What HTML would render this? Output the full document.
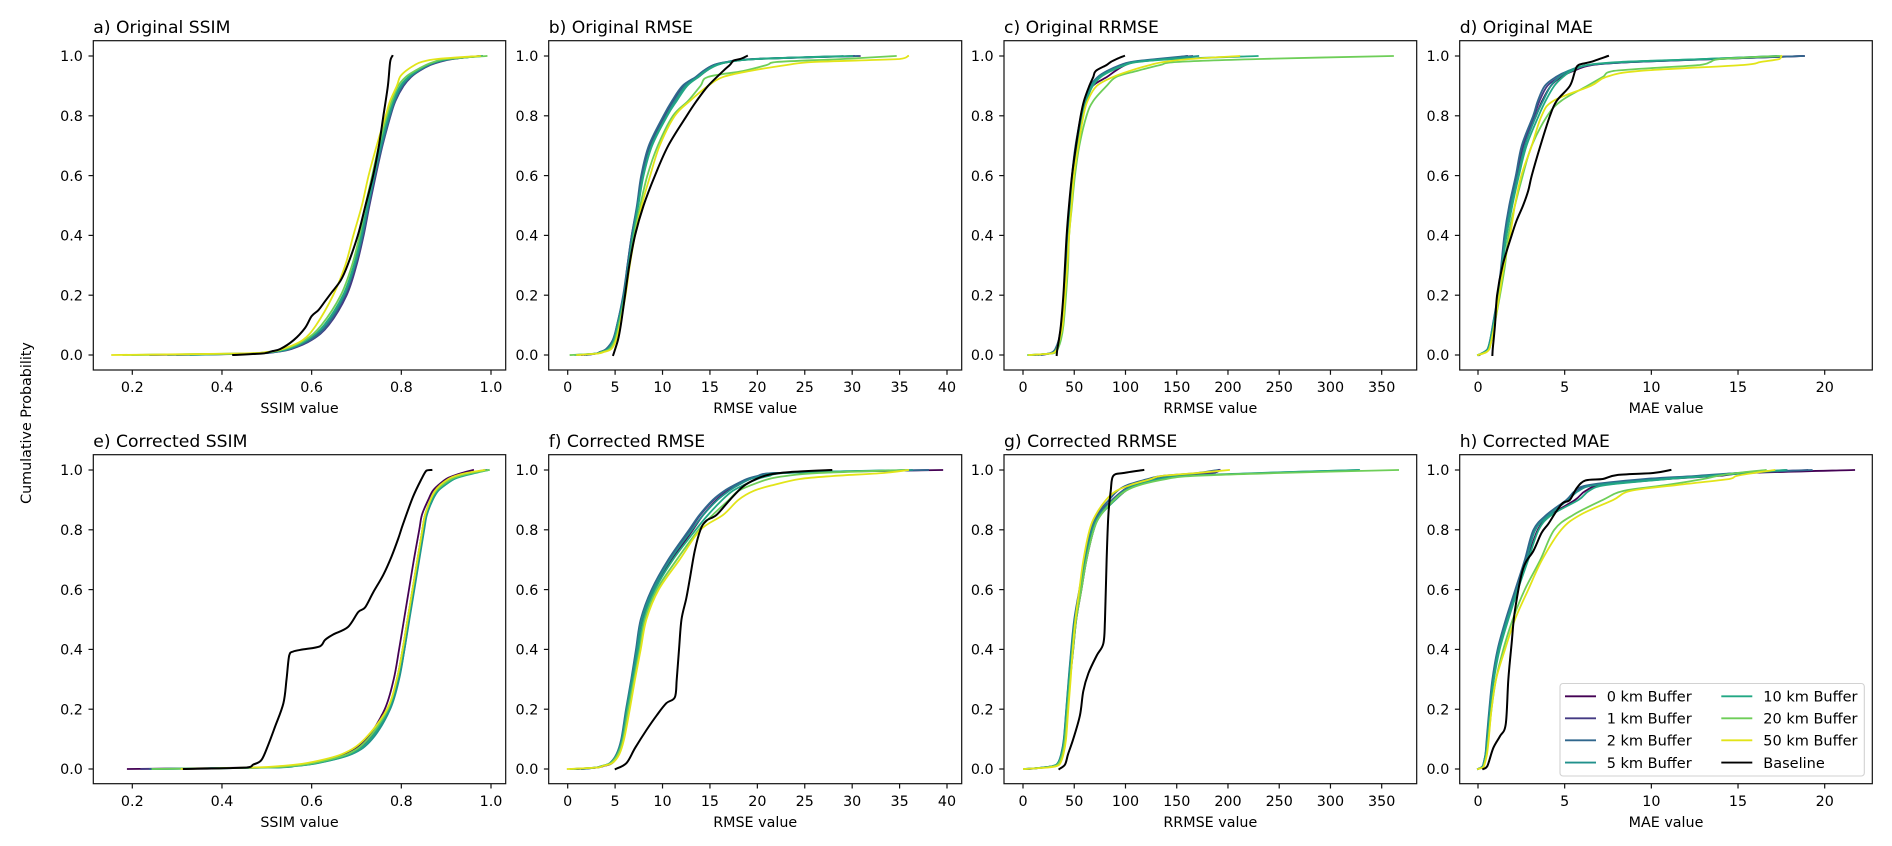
<!DOCTYPE html>
<html lang="en">
<head>
<meta charset="utf-8">
<title>Cumulative probability of SSIM, RMSE, RRMSE and MAE</title>
<style>
html,body{margin:0;padding:0;background:#fff;width:1892px;height:846px;overflow:hidden}
svg{display:block;filter:blur(0.3px)}
text{font-family:"DejaVu Sans","Liberation Sans",sans-serif;fill:#000}
</style>
</head>
<body>
<svg id="figure" width="1892" height="846" viewBox="0 0 1892 846" xmlns="http://www.w3.org/2000/svg"></svg>
<script>
// Cumulative probability level shared by every buffer series
const probabilityLevels = [0,.005,.01,.02,.05,.1,.2,.3,.4,.5,.6,.7,.8,.85,.9,.93,.95,.97,.98,.99,1];

// Category and legend labels
const seriesNames = ['0 km Buffer','1 km Buffer','2 km Buffer','5 km Buffer','10 km Buffer','20 km Buffer','50 km Buffer'];
const baselineName = 'Baseline';

// a) Original SSIM
const a0 = [.24,.47,.51,.55,.595,.635,.675,.698,.713,.726,.74,.755,.773,.785,.802,.82,.838,.86,.88,.91,.975];
const a1 = [.3,.48,.52,.555,.6,.638,.678,.7,.716,.729,.743,.758,.776,.787,.805,.822,.84,.865,.885,.915,.975];
const a2 = [.28,.47,.52,.55,.597,.635,.674,.697,.714,.727,.741,.757,.775,.786,.803,.82,.838,.862,.88,.91,.98];
const a5 = [.33,.46,.51,.55,.59,.63,.672,.696,.712,.726,.74,.755,.773,.784,.8,.818,.836,.86,.878,.91,.975];
const a10 = [.2,.46,.51,.545,.59,.628,.67,.694,.71,.724,.738,.753,.771,.782,.798,.816,.834,.858,.876,.905,.98];
const a20 = [.18,.45,.5,.54,.585,.622,.665,.69,.707,.72,.735,.75,.768,.779,.793,.81,.83,.855,.872,.9,.99];
const a50 = [.155,.44,.5,.535,.58,.61,.648,.675,.693,.712,.727,.745,.765,.775,.79,.797,.81,.83,.845,.88,.975];
const aBaseX = [.425,.49,.51,.53,.56,.585,.6,.615,.63,.645,.665,.68,.703,.72,.737,.75,.76,.77,.775,.78];
const aBaseP = [0,.005,.012,.02,.05,.09,.13,.15,.18,.21,.25,.3,.4,.5,.6,.7,.8,.9,.98,1];

// b) Original RMSE
const b0 = [1.5,3,3.5,4.2,4.85,5.25,5.95,6.35,6.8,7.4,7.9,8.7,10.4,11.3,12.4,13.8,14.6,15.7,17,20,30.2];
const b1 = [2,3,3.4,4.1,4.8,5.2,5.9,6.3,6.75,7.35,7.8,8.6,10.2,11.1,12.2,13.6,14.3,15.4,16.8,19.6,30.8];
const b2 = [1.8,3,3.4,4.05,4.75,5.2,5.85,6.3,6.75,7.3,7.75,8.55,10.1,11,12.1,13.5,14.3,15.4,16.7,19.5,30.6];
const b5 = [1,3,3.5,4.2,4.85,5.25,5.95,6.4,6.85,7.4,7.95,8.8,10.4,11.3,12.4,13.7,14.5,15.6,16.9,20,29];
const b10 = [.8,3,3.5,4.3,4.9,5.3,6,6.45,6.9,7.45,8,8.9,10.5,11.5,12.6,13.8,14.6,15.8,17,20,30];
const b20 = [.3,3,3.6,4.4,5,5.4,6.05,6.5,7,7.65,8.4,9.5,11.1,12.7,14,14.8,18.5,21,22,29,34.6];
const b50 = [1,3.2,3.8,4.6,5.1,5.5,6.1,6.55,7.1,7.8,8.7,9.7,11.3,12.9,14.8,16.4,19.2,23.1,25.9,35,35.9];
const bBaseX = [4.8,5.3,5.6,6.05,6.5,7.1,8,9.2,10.6,12.55,13.6,14.8,16.4,17.1,17.5,18.2,18.9];
const bBaseP = [0,.05,.1,.2,.3,.4,.5,.6,.7,.8,.85,.9,.95,.97,.985,.99,1];

// c) Original RRMSE
const c0 = [12,26,30,32,35.5,37.7,40.3,42.6,44,46,48.2,52,57.5,61,68,82,90,100,110,140,160];
const c1 = [18,26,30,32,35,37.5,40,42.4,43.8,45.8,48,51.5,57,60.2,66,74,84,97,107,135,165];
const c2 = [15,25,29,31.5,34.8,37.2,39.8,42.2,43.6,45.6,47.8,51.2,56.5,59.8,65.5,73,82,95,105,130,160];
const c5 = [10,26,30,32.5,35.5,38,40.5,42.8,44.2,46.2,48.4,52,57.5,60.5,66.5,74,84,98,108,137,171];
const c10 = [8,27,31,33,36,38.5,41,43.2,44.8,46.8,49,53,58.5,62,68,76,86,100,112,150,229];
const c20 = [5,28,32,34,37,39.5,42,44,45,47.8,50.7,55,62,68.6,81.6,91,111,134,150,231,361];
const c50 = [6,27,31,33,35.5,38.7,41,43.3,45,47.4,49.7,54,59,63,72,88,104,124,137,163,211];
const cBaseX = [32.9,33.5,35,37,39.4,41,42.6,44.9,47.8,51.7,56.3,59.5,64.7,68.6,71,81.6,85.6,91.4,98.6];
const cBaseP = [0,.02,.05,.1,.2,.3,.4,.5,.6,.7,.8,.85,.9,.93,.95,.97,.98,.99,1];

// d) Original MAE
const d0 = [.05,.2,.4,.6,.74,.88,1.17,1.38,1.58,1.88,2.27,2.65,3.35,3.7,4.2,4.8,5.5,6.6,9,13.8,18.8];
const d1 = [.1,.2,.38,.58,.72,.87,1.16,1.36,1.55,1.84,2.2,2.58,3.25,3.55,4,4.7,5.3,6.5,9,13.8,18.7];
const d2 = [.05,.2,.36,.56,.7,.85,1.14,1.34,1.52,1.8,2.18,2.52,3.18,3.45,3.85,4.5,5.2,6.4,8.8,13.6,18.8];
const d5 = [0,.2,.35,.55,.7,.86,1.16,1.38,1.6,1.9,2.3,2.7,3.35,3.75,4.2,4.7,5.2,6.3,8.5,13,17.2];
const d10 = [0,.22,.4,.6,.74,.9,1.2,1.42,1.65,1.98,2.36,2.8,3.5,3.9,4.4,4.9,5.4,6.3,8.2,13,17.3];
const d20 = [0,.25,.45,.65,.78,.95,1.27,1.56,1.75,2.13,2.58,3.1,4,4.8,6.3,7.2,7.8,12.8,13.4,14,17.4];
const d50 = [0,.3,.5,.65,.78,.95,1.23,1.5,1.85,2.13,2.5,3.1,3.67,4.35,6.5,7.4,9.3,15.3,16.3,17.4,17.5];
const dBaseX = [.83,.85,.98,1.1,1.42,1.94,2.23,2.6,2.9,3.1,3.6,4.15,4.54,5.3,5.6,5.8,6.5,7.5];
const dBaseP = [0,.02,.1,.2,.3,.4,.45,.5,.55,.6,.7,.8,.85,.9,.95,.97,.98,1];

// e) Corrected SSIM
const e0 = [.19,.49,.545,.6,.675,.722,.763,.783,.795,.806,.817,.828,.84,.846,.86,.87,.883,.9,.915,.935,.96];
const e1 = [.22,.5,.555,.608,.682,.728,.77,.79,.803,.814,.825,.836,.847,.853,.866,.877,.89,.908,.925,.95,.99];
const e2 = [.24,.51,.56,.612,.688,.733,.774,.794,.807,.817,.828,.839,.85,.856,.869,.88,.895,.915,.93,.955,.985];
const e5 = [.25,.52,.565,.615,.69,.735,.775,.795,.807,.818,.829,.84,.851,.857,.87,.882,.898,.918,.935,.96,.99];
const e10 = [.245,.505,.56,.612,.687,.731,.772,.792,.805,.816,.827,.838,.849,.855,.868,.88,.896,.918,.938,.965,.995];
const e20 = [.245,.5,.555,.605,.68,.725,.77,.79,.803,.814,.825,.836,.847,.853,.865,.877,.892,.912,.93,.958,.995];
const e50 = [.31,.47,.53,.59,.668,.718,.768,.79,.803,.814,.825,.836,.847,.853,.865,.875,.887,.905,.92,.945,.985];
const eBaseX = [.315,.455,.47,.488,.503,.518,.537,.544,.55,.559,.581,.618,.63,.648,.681,.704,.719,.737,.76,.778,.793,.804,.826,.845,.856,.867];
const eBaseP = [0,.005,.015,.03,.08,.14,.22,.3,.38,.393,.4,.41,.432,.45,.475,.525,.54,.59,.65,.71,.77,.82,.91,.97,.998,1];

// f) Corrected RMSE
const f0 = [1,3.1,3.8,4.7,5.4,5.8,6.3,6.85,7.35,7.85,9.05,11,13.2,14.3,15.7,16.9,18,19.2,20.3,22,39.5];
const f1 = [1.5,3.1,3.7,4.6,5.25,5.7,6.2,6.75,7.25,7.75,8.9,10.7,12.9,14,15.4,16.6,17.7,19,20.1,21.8,38];
const f2 = [1.5,3,3.6,4.45,5.15,5.65,6.15,6.7,7.2,7.7,8.85,10.6,12.8,13.9,15.3,16.5,17.6,18.9,20,21.7,38];
const f5 = [.8,3,3.6,4.5,5.2,5.7,6.2,6.75,7.3,7.8,9,10.8,13.1,14.3,15.8,17,18,19.3,20.5,22.2,36.3];
const f10 = [.4,3,3.6,4.5,5.25,5.8,6.3,6.9,7.45,8,9.2,11.1,13.5,14.8,16.3,17.4,18.6,20,21.2,23,35.5];
const f20 = [.3,3,3.6,4.55,5.3,5.85,6.4,7,7.6,8.15,9.4,11.5,13.8,15.3,17,18,19.4,21.2,23,26.5,35.8];
const f50 = [0,3.1,3.7,4.7,5.45,5.95,6.55,7.1,7.7,8.3,9.6,11.8,14,16.4,18,19.6,21.7,24.5,28,33.3,35.9];
const fBaseX = [5.06,6.2,7.1,8.3,9.4,10.4,11.3,11.5,11.74,12,12.5,12.9,13.4,14,14.6,15.7,17.1,18.5,19.9,21.3,23.4,27.8];
const fBaseP = [0,.02,.07,.13,.18,.22,.24,.3,.4,.5,.57,.64,.73,.8,.83,.85,.9,.945,.97,.985,.993,1];

// g) Corrected RRMSE
const g0 = [3,20,30,35,38.5,41.3,43.6,46,49,52,57,62,69,75,90,100,110,132,150,185,191];
const g1 = [5,20,30,34.5,37.7,40.3,42.8,45.2,48,51,56,61,67,73,87,97,107,128,147,185,192];
const g2 = [6,20,30,34,37.2,39.8,42.2,44.5,47,50,55,60,66,71.5,84,92,102,122,135,170,190];
const g5 = [2,19,29,34,37.5,40,42.3,44.7,47.3,50.5,55.5,60.5,67.5,74,88,98,108,130,155,230,327];
const g10 = [2,20,30,34.5,38,40.5,42.8,45.2,48,51,56,61.5,69,76,90,100,112,135,158,235,328];
const g20 = [1,22,31,35,38.5,41,43.5,46,49,52,57,62,69,76,89,100,114,140,165,250,366];
const g50 = [1,24,33,36.5,39.5,42,44.2,46.5,48.5,51.2,55,59,65,71,81,91,105,125,135,170,201];
const gBaseX = [35.5,41,44,49,55.6,58.8,63.8,72,78.4,80,81.6,83.3,85.6,88,98,117.4];
const gBaseP = [0,.015,.05,.1,.18,.26,.32,.38,.42,.5,.7,.85,.93,.98,.99,1];

// h) Corrected MAE
const h0 = [0,.2,.3,.35,.46,.54,.7,.88,1.2,1.7,2.25,2.85,3.45,4.2,5.6,6.2,7.2,11,13.8,15.7,21.7];
const h1 = [0,.2,.28,.33,.44,.52,.67,.85,1.15,1.62,2.2,2.75,3.3,4.05,5.2,5.7,6.6,10,13,15,19];
const h2 = [0,.18,.27,.32,.43,.5,.65,.83,1.13,1.6,2.15,2.7,3.2,3.95,5.1,5.6,6.4,9.6,12.5,15,19.25];
const h5 = [0,.18,.28,.33,.44,.53,.68,.87,1.18,1.68,2.25,2.8,3.3,4.1,5.2,5.8,6.8,10.5,13,15,17.8];
const h10 = [0,.2,.3,.35,.47,.56,.72,.92,1.25,1.75,2.3,2.9,3.5,4.25,5.8,6.4,7.4,11,13.5,15.4,17.7];
const h20 = [0,.25,.32,.38,.5,.6,.78,1.04,1.46,2,2.7,3.6,4.4,5.5,7.2,8.4,10.9,13,13.8,14.9,16.6];
const h50 = [0,.28,.35,.4,.52,.62,.78,1.04,1.56,2.13,2.9,3.7,4.8,5.9,7.8,8.8,11.5,14.5,14.9,15.9,17.1];
const hBaseX = [.3,.54,.88,1.27,1.6,1.75,1.94,2.13,2.6,3.2,3.67,4.06,4.5,4.9,5.3,5.7,6.2,7.2,8,10.1,11.1];
const hBaseP = [0,.01,.07,.11,.15,.3,.42,.53,.67,.73,.79,.82,.86,.89,.9,.94,.965,.97,.983,.99,1];

// Tick labels
const yTickValues = [0,.2,.4,.6,.8,1];
const ssimTicks = [.2,.4,.6,.8,1];
const rmseTicks = [0,5,10,15,20,25,30,35,40];
const rrmseTicks = [0,50,100,150,200,250,300,350];
const maeTicks = [0,5,10,15,20];

const panels = [
  {key:'a',title:'a) Original SSIM',xlabel:'SSIM value',ticks:ssimTicks,dec:1,col:0,row:0,series:[a0,a1,a2,a5,a10,a20,a50],bx:aBaseX,bp:aBaseP},
  {key:'b',title:'b) Original RMSE',xlabel:'RMSE value',ticks:rmseTicks,dec:0,col:1,row:0,series:[b0,b1,b2,b5,b10,b20,b50],bx:bBaseX,bp:bBaseP},
  {key:'c',title:'c) Original RRMSE',xlabel:'RRMSE value',ticks:rrmseTicks,dec:0,col:2,row:0,series:[c0,c1,c2,c5,c10,c20,c50],bx:cBaseX,bp:cBaseP},
  {key:'d',title:'d) Original MAE',xlabel:'MAE value',ticks:maeTicks,dec:0,col:3,row:0,series:[d0,d1,d2,d5,d10,d20,d50],bx:dBaseX,bp:dBaseP},
  {key:'e',title:'e) Corrected SSIM',xlabel:'SSIM value',ticks:ssimTicks,dec:1,col:0,row:1,series:[e0,e1,e2,e5,e10,e20,e50],bx:eBaseX,bp:eBaseP},
  {key:'f',title:'f) Corrected RMSE',xlabel:'RMSE value',ticks:rmseTicks,dec:0,col:1,row:1,series:[f0,f1,f2,f5,f10,f20,f50],bx:fBaseX,bp:fBaseP},
  {key:'g',title:'g) Corrected RRMSE',xlabel:'RRMSE value',ticks:rrmseTicks,dec:0,col:2,row:1,series:[g0,g1,g2,g5,g10,g20,g50],bx:gBaseX,bp:gBaseP},
  {key:'h',title:'h) Corrected MAE',xlabel:'MAE value',ticks:maeTicks,dec:0,col:3,row:1,series:[h0,h1,h2,h5,h10,h20,h50],bx:hBaseX,bp:hBaseP}
];

// Layout (screen geometry, separate from data)
const columnLayout = [
  {left:93.3,right:505.7,d0:.2,p0:132.3,d1:1,p1:491},
  {left:548.7,right:961.7,d0:0,p0:567.7,d1:40,p1:947},
  {left:1004,right:1416.7,d0:0,p0:1023,d1:350,p1:1381.7},
  {left:1459.7,right:1872.3,d0:0,p0:1478,d1:20,p1:1824.7}
];
const rowLayout = [
  {top:40.7,bottom:370,y1:56,y0:355},
  {top:454.7,bottom:783.7,y1:470,y0:769}
];
const palette = ['#440154','#443a83','#30678d','#21918c','#22a884','#6ece58','#e2e418'];
const ink = '#111';
const NS = 'http://www.w3.org/2000/svg';
const fig = document.getElementById('figure');

function make(tag, attrs, parent, text) {
  const el = document.createElementNS(NS, tag);
  for (const k in attrs) el.setAttribute(k, attrs[k]);
  if (text !== undefined) el.textContent = text;
  (parent || fig).appendChild(el);
  return el;
}
function clampTo(v, a, b) {
  return Math.min(Math.max(a, b), Math.max(Math.min(a, b), v));
}
// Smooth curve through the data points; control points stay inside each segment's box
function linePath(xs, ps, sx, sy) {
  const pts = xs.map((v, i) => [sx(v), sy(ps[i])]);
  let d = 'M' + pts[0][0].toFixed(2) + ' ' + pts[0][1].toFixed(2);
  for (let i = 0; i < pts.length - 1; i++) {
    const a = pts[i], b = pts[i + 1], prev = pts[i - 1] || a, next = pts[i + 2] || b;
    const c1x = clampTo(a[0] + (b[0] - prev[0]) / 6, a[0], b[0]);
    const c1y = clampTo(a[1] + (b[1] - prev[1]) / 6, a[1], b[1]);
    const c2x = clampTo(b[0] - (next[0] - a[0]) / 6, a[0], b[0]);
    const c2y = clampTo(b[1] - (next[1] - a[1]) / 6, a[1], b[1]);
    d += 'C' + c1x.toFixed(2) + ' ' + c1y.toFixed(2) + ' ' + c2x.toFixed(2) + ' ' + c2y.toFixed(2) + ' ' + b[0].toFixed(2) + ' ' + b[1].toFixed(2);
  }
  return d;
}

panels.forEach(function (p) {
  const c = columnLayout[p.col];
  const r = rowLayout[p.row];
  const sx = v => c.p0 + (v - c.d0) * (c.p1 - c.p0) / (c.d1 - c.d0);
  const sy = v => r.y0 + v * (r.y1 - r.y0);

  const g = make('g', {});
  
  

  const title = make('text', {x: c.left, y: r.top - 7.6, 'font-size': 17.2}, g, p.title);
  
  

  const clipId = 'clip-' + p.key;
  const clip = make('clipPath', {id: clipId}, g);
  make('rect', {x: c.left, y: r.top, width: c.right - c.left, height: r.bottom - r.top}, clip);

  const lines = make('g', {'clip-path': 'url(#' + clipId + ')', fill: 'none', 'stroke-linejoin': 'round', 'stroke-linecap': 'square'}, g);
  
  

  p.series.forEach(function (xs, i) {
    const path = make('path', {d: linePath(xs, probabilityLevels, sx, sy), stroke: palette[i], 'stroke-width': 1.8}, lines);
    
    
  });
  const base = make('path', {d: linePath(p.bx, p.bp, sx, sy), stroke: '#000', 'stroke-width': 2}, lines);
  
  

  const frame = make('rect', {x: c.left, y: r.top, width: c.right - c.left, height: r.bottom - r.top, fill: 'none', stroke: ink, 'stroke-width': 1.2}, g);
  
  

  yTickValues.forEach(function (t) {
    const y = sy(t);
    const tick = make('line', {x1: c.left - 4.8, x2: c.left, y1: y, y2: y, stroke: ink, 'stroke-width': 1.2}, g);
    
    
    const lab = make('text', {x: c.left - 10.4, y: y + 5.2, 'text-anchor': 'end', 'font-size': 14.3}, g, t.toFixed(1));
    
    
  });
  p.ticks.forEach(function (t) {
    const x = sx(t);
    const tick = make('line', {x1: x, x2: x, y1: r.bottom, y2: r.bottom + 4.8, stroke: ink, 'stroke-width': 1.2}, g);
    
    
    const lab = make('text', {x: x, y: r.bottom + 22.2, 'text-anchor': 'middle', 'font-size': 14.3}, g, t.toFixed(p.dec));
    
    
  });
  const xl = make('text', {x: (c.left + c.right) / 2, y: r.bottom + 43.2, 'text-anchor': 'middle', 'font-size': 14.3}, g, p.xlabel);
  
  
});

const yLabel = make('text', {x: 0, y: 0, transform: 'translate(31,423) rotate(-90)', 'text-anchor': 'middle', 'font-size': 14.3}, fig, 'Cumulative Probability');



// Legend
const legend = make('g', {});


make('rect', {x: 1560, y: 683.5, width: 304.3, height: 92.5, rx: 3, ry: 3, fill: '#fff', 'fill-opacity': .85, stroke: '#d2d2d2', 'stroke-width': 1.1}, legend);
const legendRows = [696.3, 718.3, 740.3, 762.6];
function legendEntry(col, row, label, color) {
  const x0 = col ? 1721.3 : 1565;
  const tx = col ? 1763.3 : 1606.7;
  const y = legendRows[row];
  const g = make('g', {}, legend);
  
  
  make('line', {x1: x0, x2: x0 + 31, y1: y, y2: y, stroke: color, 'stroke-width': 1.9}, g);
  make('text', {x: tx, y: y + 5.2, 'font-size': 14.5}, g, label);
}
seriesNames.forEach(function (n, i) {
  legendEntry(i < 4 ? 0 : 1, i < 4 ? i : i - 4, n, palette[i]);
});
legendEntry(1, 3, baselineName, '#000');
</script>
</body>
</html>
